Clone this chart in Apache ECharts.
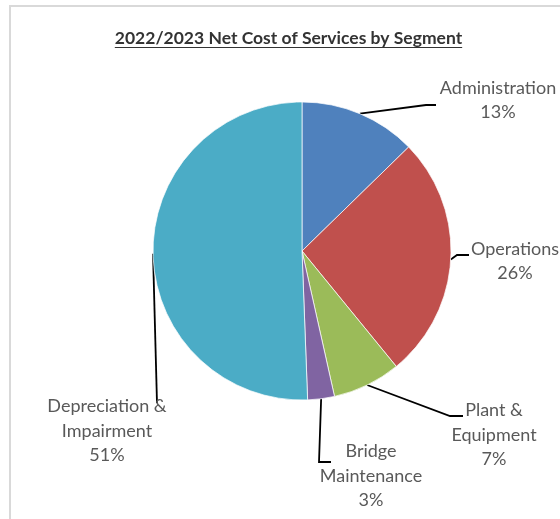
<!DOCTYPE html>
<html>
<head>
<meta charset="utf-8">
<script src="https://cdn.jsdelivr.net/npm/echarts@6/dist/echarts.min.js"></script>
<style>
html,body{margin:0;padding:0;background:#fff;}
#chart{width:560px;height:519px;}
</style>
</head>
<body>
<div id="chart"></div>
<script>
// ---- data ----
const titleText = '2022/2023 Net Cost of Services by Segment';
const categories = ['Administration', 'Operations', 'Plant &\nEquipment', 'Bridge\nMaintenance', 'Depreciation &\nImpairment'];
const values = [12.7, 26.4, 7.4, 2.9, 50.6];
const colors = ['#4F81BD', '#C0504D', '#9BBB59', '#8064A2', '#4BACC6'];

// ---- layout (label anchors and leader-line elbows) ----
const labelPos = [[498, 100], [515, 261], [494, 435], [371, 476], [107, 431]];
const lineElbow = [[426, 105], [457, 255], [450, 416], [319, 462], [157, 403]];
const lineEnd = [[436, 105], [469, 255], [463, 416], [331, 462], [157, 403]];

const font = 'Lato, "Open Sans", sans-serif';
const titleSize = 17.5;
const titleFont = 'bold ' + titleSize + 'px ' + font;

// measure title for underline using the library's own text metrics
const tmp = new echarts.graphic.Text({style: {text: titleText, font: titleFont}});
const tw = tmp.getBoundingRect().width;
const titleCx = 288.5, titleY = 38;

const chart = echarts.init(document.getElementById('chart'), null, {renderer: 'canvas'});
chart.setOption({
  backgroundColor: '#fff',
  animation: false,
  title: {
    text: titleText,
    padding: 0,
    left: titleCx, top: titleY, textAlign: 'center', textVerticalAlign: 'middle',
    textStyle: {fontFamily: font, fontSize: titleSize, fontWeight: 'bold', color: '#333'}
  },
  graphic: [
    {type: 'rect', shape: {x: 10, y: 6, width: 700, height: 700}, style: {fill: 'none', stroke: '#d9d9d9', lineWidth: 2}, silent: true},
    {type: 'line', shape: {x1: titleCx - tw / 2, y1: titleY + 9.5, x2: titleCx + tw / 2, y2: titleY + 9.5}, style: {stroke: '#333', lineWidth: 1}, silent: true}
  ],
  series: [{
    type: 'pie',
    center: [302, 251],
    radius: 149,
    startAngle: 90,
    clockwise: true,
    percentPrecision: 0,
    avoidLabelOverlap: false,
    itemStyle: {borderColor: '#fff', borderWidth: 0.7},
    label: {
      show: true, position: 'outside',
      formatter: '{b}\n{d}%',
      fontFamily: font, fontSize: 18, lineHeight: 24.5, color: '#595959',
      align: 'center', width: 150, overflow: 'none'
    },
    labelLine: {show: true, lineStyle: {color: '#000', width: 1.8}},
    labelLayout: function (p) {
      const i = p.dataIndex;
      const start = p.labelLinePoints ? p.labelLinePoints[0] : lineElbow[i];
      return {
        x: labelPos[i][0], y: labelPos[i][1],
        align: 'center', verticalAlign: 'middle',
        labelLinePoints: [start, lineElbow[i], lineEnd[i]]
      };
    },
    emphasis: {disabled: true},
    data: categories.map((c, i) => ({name: c, value: values[i], itemStyle: {color: colors[i]}}))
  }]
});
</script>
</body>
</html>
